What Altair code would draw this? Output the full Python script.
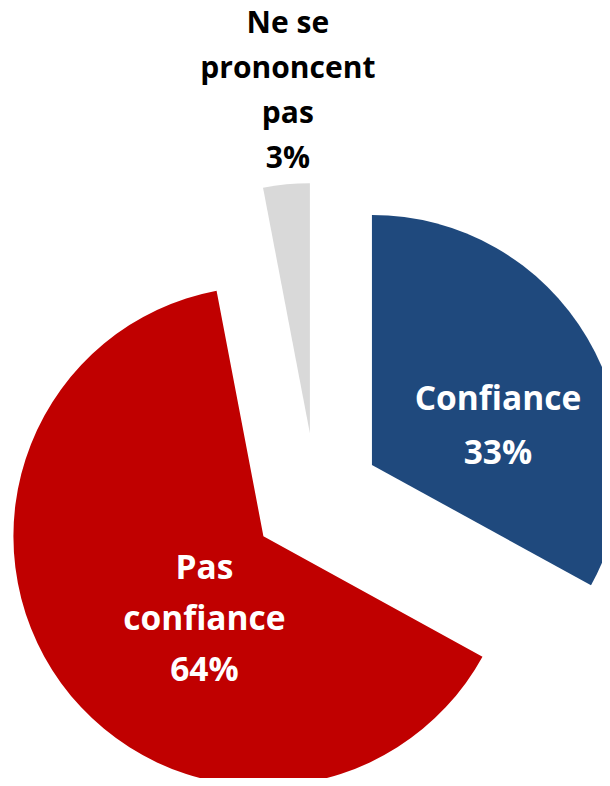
import altair as alt
import pandas as pd

# Data
categories = ["Confiance", "Pas confiance", "Ne se prononcent pas"]
label_lines = ["Confiance", "Pas\nconfiance", "Ne se\nprononcent\npas"]
values = [33, 64, 3]
colors = ["#1F497D", "#C00000", "#D9D9D9"]

df = pd.DataFrame({
    "cat": categories,
    "lines": label_lines,
    "value": values,
    "order": list(range(len(categories))),
})

W, H = 594, 770
CX, CY = 308, 490      # pie centre (pixels)
EXPLODE = 65           # explosion distance
R = 250                # radius

base = alt.Chart(df).transform_window(
    cum="sum(value)", sort=[alt.SortField("order")], frame=[None, 0]
).transform_joinaggregate(
    total="sum(value)"
).transform_calculate(
    start="2*PI*(datum.cum - datum.value)/datum.total",
    end="2*PI*datum.cum/datum.total",
    mid="2*PI*(datum.cum - datum.value/2)/datum.total",
).transform_calculate(
    px=f"{CX} + {EXPLODE}*sin(datum.mid)",
    py=f"{CY} - {EXPLODE}*cos(datum.mid)",
    label="datum.lines + '\\n' + datum.value + '%'",
)

arcs = base.mark_arc(outerRadius=R, clip=True, stroke=None).encode(
    theta=alt.Theta("start:Q", scale=None, stack=False),
    theta2="end:Q",
    x=alt.X("px:Q", scale=None, axis=None),
    y=alt.Y("py:Q", scale=None, axis=None),
    color=alt.Color("cat:N", scale=alt.Scale(domain=categories, range=colors), legend=None),
)

def text_layer(cat, color, size, dx, dy, lh):
    return base.transform_filter(alt.datum.cat == cat).mark_text(
        font="Open Sans", fontWeight="bold", fontSize=size, color=color,
        align="center", baseline="alphabetic", lineBreak="\n", lineHeight=lh,
        dx=dx, dy=dy,
    ).encode(
        x=alt.X("px:Q", scale=None, axis=None),
        y=alt.Y("py:Q", scale=None, axis=None),
        text="label:N",
    )

t_blue = text_layer("Confiance", "white", 33.5, 126, -55, 54)
t_red = text_layer("Pas confiance", "white", 33.5, -59, 43, 51)
t_gray = text_layer("Ne se prononcent pas", "black", 30, -22, -400, 45)

chart = alt.layer(arcs, t_blue, t_red, t_gray).properties(
    width=W, height=H, padding=0,
    autosize=alt.AutoSizeParams(type="none"),
).configure_view(stroke=None)

chart.save("out.html", embed_options={"renderer": "svg", "actions": False})
